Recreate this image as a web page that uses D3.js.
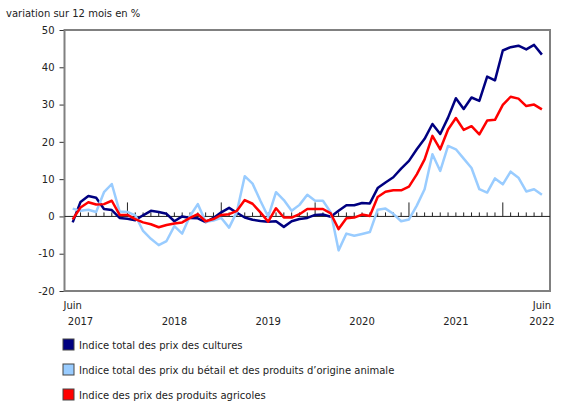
<!DOCTYPE html>
<html lang="fr">
<head>
<meta charset="UTF-8">
<title>Indices des prix des produits agricoles</title>
<script src="https://cdn.jsdelivr.net/npm/d3@7"></script>
<style>
body { margin: 0; background: #fff; }
text { font-family: "DejaVu Sans", Verdana, sans-serif; font-size: 10px; fill: #222; }
</style>
</head>
<body>
<svg width="580" height="410"></svg>
<script>
// juin 2017 -> juin 2022, mensuel
var cultures = [
  -1.6, 3.9, 5.5, 5.0, 2.0, 1.7, -0.4, -0.6, -1.0, 0.3, 1.5, 1.2,
  0.7, -1.3, 0.0, -0.4, -0.5, -1.5, -0.4, 1.1, 2.3, 1.0, -0.3, -0.9,
  -1.2, -1.4, -1.3, -2.8, -1.3, -0.7, -0.4, 0.4, 0.5, -0.1, 1.5, 3.0,
  3.0, 3.6, 3.5, 7.6, 9.1, 10.5, 12.8, 14.9, 18.0, 20.8, 24.8, 22.1,
  26.5, 31.7, 28.8, 31.9, 31.0, 37.5, 36.5, 44.5, 45.4, 45.8, 44.8, 46.0,
  43.4
];
var betail = [
  2.1, 1.5, 1.8, 1.2, 6.5, 8.7, 1.3, 1.2, 0.3, -3.9, -6.0, -7.7,
  -6.6, -2.6, -4.6, 0.1, 3.3, -1.4, -1.1, -0.4, -3.0, 1.3, 10.8, 8.8,
  4.2, -0.1, 6.5, 4.4, 1.5, 3.1, 5.8, 4.2, 4.2, 1.1, -9.1, -4.6,
  -5.2, -4.7, -4.2, 1.8, 2.1, 0.7, -1.3, -0.8, 2.9, 7.3, 16.7, 12.2,
  18.9, 18.0, 15.5, 13.0, 7.3, 6.4, 10.2, 8.6, 12.0, 10.4, 6.7, 7.3,
  5.8
];
var agricoles = [
  -0.8, 2.4, 3.8, 3.2, 3.3, 4.2, 0.4, 0.4, -0.7, -1.6, -2.1, -2.9,
  -2.3, -1.9, -1.6, -0.4, 0.6, -1.3, -0.7, 0.4, 0.6, 1.5, 4.4, 3.4,
  1.1, -1.4, 2.2, -0.3, -0.3, 0.6, 2.0, 2.0, 2.0, 0.8, -3.4, -0.5,
  -0.3, 0.5, 0.1, 5.2, 6.6, 7.0, 7.0, 8.0, 11.3, 15.3, 21.6, 18.0,
  23.3, 26.4, 23.2, 24.2, 22.0, 25.7, 25.9, 29.9, 32.1, 31.6, 29.6, 30.0,
  28.7
];
var yTicks = [-20, -10, 0, 10, 20, 30, 40, 50];
var years = ["2017", "2018", "2019", "2020", "2021", "2022"];
var yearPos = [1, 13, 25, 37, 49, 60];   // index du mois sous lequel l'année est écrite
var janIdx = [7, 19, 31, 43, 55];

var series = [
  { name: "Indice total des prix des cultures", color: "#000080", values: cultures },
  { name: "Indice total des prix du bétail et des produits d\u2019origine animale", color: "#99ccff", values: betail },
  { name: "Indice des prix des produits agricoles", color: "#ff0000", values: agricoles }
];

var svg = d3.select("svg");
var mLeft = 64.5, mRight = 550, mTop = 30, mBottom = 291;

var x = d3.scaleLinear().domain([0, cultures.length - 1]).range([72.7, 541.9]);
var y = d3.scaleLinear().domain([-20, 50]).range([mBottom, mTop]);

svg.append("text").attr("x", 6).attr("y", 17).text("variation sur 12 mois en %");

// axe y
var yAxis = svg.append("g").attr("transform", "translate(" + mLeft + ",0)")
  .call(d3.axisLeft(y).tickValues(yTicks).tickSize(5).tickPadding(5)
    .tickFormat(function(d) { return String(d); }));
yAxis.select(".domain").remove();
yAxis.selectAll("line").attr("stroke", "#333");
yAxis.selectAll("text").style("font-size", "10px").attr("fill", "#222")
  .style("font-family", "DejaVu Sans, Verdana, sans-serif");

// cadre
svg.append("rect").attr("x", mLeft).attr("y", mTop)
  .attr("width", mRight - mLeft).attr("height", mBottom - mTop)
  .attr("fill", "none").attr("stroke", "#808080").attr("stroke-width", 2);

// ligne zéro et graduations mensuelles
var zero = y(0);
svg.append("line").attr("x1", mLeft).attr("x2", mRight).attr("y1", zero).attr("y2", zero)
  .attr("stroke", "#222").attr("stroke-width", 1);
svg.append("g").selectAll("line").data(d3.range(1, cultures.length)).enter().append("line")
  .attr("x1", function(d) { return x(d); }).attr("x2", function(d) { return x(d); })
  .attr("y1", zero).attr("y2", function(d) { return janIdx.indexOf(d) >= 0 ? zero - 14 : zero - 4; })
  .attr("stroke", "#222").attr("stroke-width", 1);

// lignes
var line = d3.line().x(function(d, i) { return x(i); }).y(function(d) { return y(d); });
svg.append("g").selectAll("path").data(series).enter().append("path")
  .attr("d", function(d) { return line(d.values); })
  .attr("fill", "none").attr("stroke", function(d) { return d.color; })
  .attr("stroke-width", 2.5).attr("stroke-linejoin", "round");

// étiquettes x
svg.append("text").attr("x", x(0)).attr("y", 309).attr("text-anchor", "middle").text("Juin");
svg.append("text").attr("x", x(cultures.length - 1)).attr("y", 309).attr("text-anchor", "middle").text("Juin");
svg.append("g").selectAll("text").data(years).enter().append("text")
  .attr("x", function(d, i) { return x(yearPos[i]); }).attr("y", 325)
  .attr("text-anchor", "middle").text(function(d) { return d; });

// légende
var leg = svg.append("g").selectAll("g").data(series).enter().append("g")
  .attr("transform", function(d, i) { return "translate(63," + (339 + i * 25) + ")"; });
leg.append("rect").attr("width", 11).attr("height", 11)
  .attr("fill", function(d) { return d.color; }).attr("stroke", "#444").attr("stroke-width", 1);
leg.append("text").attr("x", 16).attr("y", 10).text(function(d) { return d.name; });
</script>
</body>
</html>
